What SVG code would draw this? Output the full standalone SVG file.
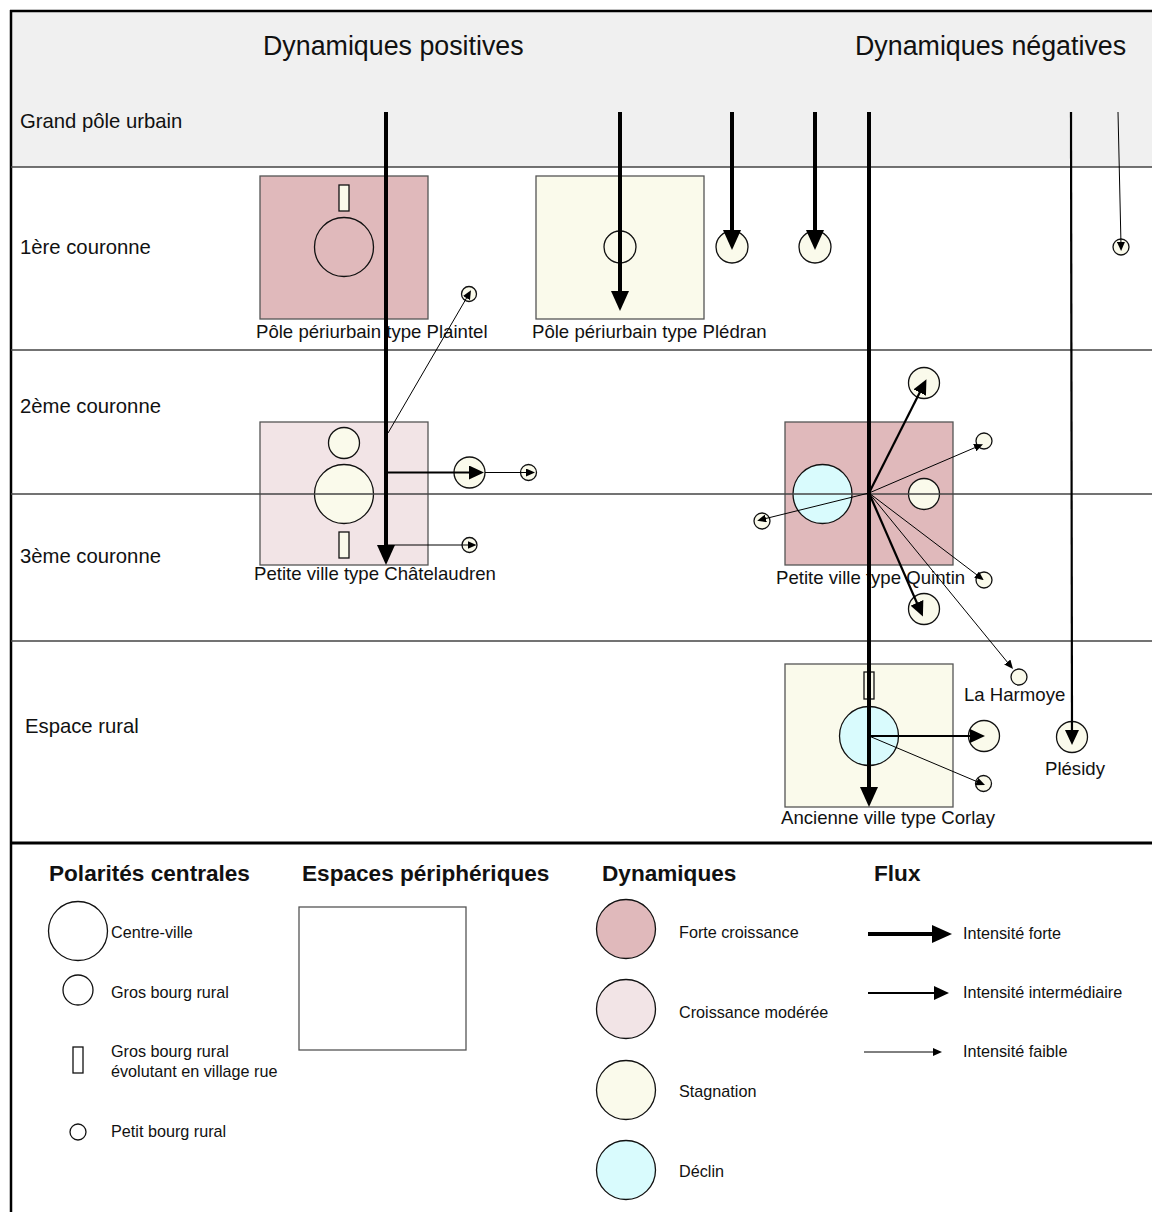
<svg xmlns="http://www.w3.org/2000/svg" width="1152" height="1212" viewBox="0 0 1152 1212">
<style>
text{font-family:"Liberation Sans",Arial,sans-serif;fill:#111}
.title{font-size:26.8px}
.row{font-size:20.3px}
.lbl{font-size:18.6px}
.leg{font-size:16.2px}
.head{font-size:22.6px;font-weight:bold}
.box{stroke:#555;stroke-width:1.3}
.fc{fill:#e0b9bb}
.cm{fill:#f2e4e6}
.st{fill:#fafaeb}
.de{fill:#d9fbfd}
.nf{fill:none}
.c{stroke:#111;stroke-width:1.3}
.grid{stroke:#444;stroke-width:1.4}
.thick{stroke:#000;stroke-width:4;fill:none;marker-end:url(#mThick)}
.med{stroke:#000;stroke-width:2.2;fill:none;marker-end:url(#mMed)}
.thin{stroke:#000;stroke-width:1;fill:none;marker-end:url(#mThin)}
</style>
<defs>
<marker id="mThick" markerUnits="userSpaceOnUse" markerWidth="20" markerHeight="18" refX="6" refY="9" orient="auto"><path d="M0,0 L20,9 L0,18 z" fill="#000"/></marker>
<marker id="mMed" markerUnits="userSpaceOnUse" markerWidth="15" markerHeight="14" refX="4" refY="7" orient="auto"><path d="M0,0 L15,7 L0,14 z" fill="#000"/></marker>
<marker id="mThin" markerUnits="userSpaceOnUse" markerWidth="9" markerHeight="8" refX="3" refY="4" orient="auto"><path d="M0,0 L9,4 L0,8 z" fill="#000"/></marker>
</defs>
<rect x="0" y="0" width="1152" height="1212" fill="#fff"/>
<rect x="11" y="11" width="1141" height="156" fill="#f0f0f0"/>

<g id="frame">
<line x1="10" y1="11" x2="1152" y2="11" stroke="#000" stroke-width="2.5"/>
<line x1="11" y1="10" x2="11" y2="1212" stroke="#000" stroke-width="2.5"/>
</g>

<g id="headers">
<text class="title" x="263" y="55">Dynamiques positives</text>
<text class="title" x="855" y="55">Dynamiques négatives</text>
<text class="row" x="20" y="128">Grand pôle urbain</text>
<text class="row" x="20" y="254">1ère couronne</text>
<text class="row" x="20" y="413">2ème couronne</text>
<text class="row" x="20" y="563">3ème couronne</text>
<text class="row" x="25" y="733">Espace rural</text>
</g>

<g id="plaintel">
<rect class="box fc" x="260" y="176" width="168" height="143"/>
<rect class="c st" x="339" y="185" width="10" height="26"/>
<circle class="c nf" cx="344" cy="247" r="29.5"/>
<text class="lbl" x="256" y="338">Pôle périurbain type Plaintel</text>
</g>

<g id="pledran">
<rect class="box st" x="536" y="176" width="168" height="143"/>
<circle class="c nf" cx="620" cy="247" r="16"/>
<text class="lbl" x="532" y="338">Pôle périurbain type Plédran</text>
</g>

<g id="chatelaudren">
<rect class="box cm" x="260" y="422" width="168" height="143"/>
<circle class="c st" cx="344" cy="443" r="15.5"/>
<circle class="c st" cx="344" cy="494" r="29.5"/>
<rect class="c st" x="339" y="532" width="10" height="26"/>
<text class="lbl" x="254" y="580">Petite ville type Châtelaudren</text>
</g>

<g id="quintin">
<rect class="box fc" x="785" y="422" width="168" height="143"/>
<circle class="c de" cx="822.5" cy="494" r="29.5"/>
<circle class="c st" cx="924" cy="494" r="15.5"/>
<text class="lbl" x="776" y="584">Petite ville type Quintin</text>
</g>

<g id="corlay">
<rect class="box st" x="785" y="664" width="168" height="143"/>
<rect class="c st" x="864" y="672" width="10" height="27"/>
<circle class="c de" cx="869" cy="736" r="29.5"/>
<text class="lbl" x="781" y="824">Ancienne ville type Corlay</text>
</g>

<g id="grid">
<line class="grid" x1="11" y1="167" x2="1152" y2="167"/>
<line class="grid" x1="11" y1="350" x2="1152" y2="350"/>
<line class="grid" x1="11" y1="494" x2="1152" y2="494" stroke="#111"/>
<line class="grid" x1="11" y1="641" x2="1152" y2="641"/>
<line x1="11" y1="843" x2="1152" y2="843" stroke="#000" stroke-width="3"/>
</g>

<g id="satellites">
<circle class="c st" cx="732" cy="247" r="16"/>
<circle class="c st" cx="815" cy="247" r="16"/>
<circle class="c st" cx="1121" cy="247" r="8"/>
<circle class="c st" cx="469" cy="294" r="7.5"/>
<circle class="c st" cx="469.5" cy="472.5" r="15.5"/>
<circle class="c st" cx="528.5" cy="472.5" r="8"/>
<circle class="c st" cx="469.5" cy="545" r="7.5"/>
<circle class="c st" cx="924" cy="383" r="15.5"/>
<circle class="c st" cx="984" cy="441" r="8"/>
<circle class="c st" cx="762" cy="521" r="8"/>
<circle class="c st" cx="924" cy="609" r="15.5"/>
<circle class="c st" cx="984" cy="580" r="8"/>
<circle class="c st" cx="1019" cy="677" r="8"/>
<circle class="c st" cx="984" cy="736" r="15.5"/>
<circle class="c st" cx="983.5" cy="783.5" r="8"/>
<circle class="c st" cx="1072" cy="737" r="15.5"/>
<text class="lbl" x="964" y="701">La Harmoye</text>
<text class="lbl" x="1045" y="775">Plésidy</text>
</g>

<g id="connectors">
<line class="thick" x1="386" y1="112" x2="386" y2="551"/>
<line class="thick" x1="620" y1="112" x2="620" y2="297"/>
<line class="thick" x1="732" y1="112" x2="732" y2="236"/>
<line class="thick" x1="815" y1="112" x2="815" y2="236"/>
<line class="thick" x1="869" y1="112" x2="869" y2="793"/>
<line class="med" x1="1071" y1="112" x2="1072" y2="734"/>
<line class="thin" x1="1118" y1="112" x2="1121" y2="245"/>
<line class="thin" x1="388" y1="433" x2="468" y2="295.5"/>
<line class="med" x1="388" y1="472.5" x2="473" y2="472.5"/>
<line class="thin" x1="485" y1="472.5" x2="529" y2="472.5"/>
<line class="thin" x1="388" y1="545" x2="470.5" y2="545"/>
<line class="med" x1="869" y1="493" x2="921.5" y2="389"/>
<line class="thin" x1="869" y1="493" x2="977.5" y2="446.5"/>
<line class="thin" x1="869" y1="493" x2="763" y2="519.2"/>
<line class="med" x1="869" y1="493" x2="918.5" y2="606.5"/>
<line class="thin" x1="869" y1="493" x2="979" y2="576.5"/>
<line class="thin" x1="869" y1="493" x2="1009.2" y2="664.4"/>
<line class="med" x1="869" y1="736" x2="974" y2="736"/>
<line class="thin" x1="869" y1="736" x2="979.5" y2="782.7"/>
</g>

<g id="legend-polarites">
<text class="head" x="49" y="881">Polarités centrales</text>
<circle class="c nf" cx="78" cy="931" r="29.5"/>
<text class="leg" x="111" y="938">Centre-ville</text>
<circle class="c nf" cx="78" cy="990" r="15"/>
<text class="leg" x="111" y="998">Gros bourg rural</text>
<rect class="c nf" x="73" y="1047" width="10" height="26"/>
<text class="leg" x="111" y="1057">Gros bourg rural</text>
<text class="leg" x="111" y="1077">évolutant en village rue</text>
<circle class="c nf" cx="78" cy="1132" r="8"/>
<text class="leg" x="111" y="1137">Petit bourg rural</text>
</g>

<g id="legend-espaces">
<text class="head" x="302" y="881">Espaces périphériques</text>
<rect class="box" fill="#fff" x="299" y="907" width="167" height="143"/>
</g>

<g id="legend-dynamiques">
<text class="head" x="602" y="881">Dynamiques</text>
<circle class="c fc" cx="626" cy="929" r="29.5"/>
<text class="leg" x="679" y="938">Forte croissance</text>
<circle class="c cm" cx="626" cy="1009" r="29.5"/>
<text class="leg" x="679" y="1018">Croissance modérée</text>
<circle class="c st" cx="626" cy="1090" r="29.5"/>
<text class="leg" x="679" y="1097">Stagnation</text>
<circle class="c de" cx="626" cy="1170" r="29.5"/>
<text class="leg" x="679" y="1177">Déclin</text>
</g>

<g id="legend-flux">
<text class="head" x="874" y="881">Flux</text>
<line class="thick" x1="868" y1="934" x2="938" y2="934"/>
<text class="leg" x="963" y="939">Intensité forte</text>
<line class="med" x1="868" y1="993" x2="938" y2="993"/>
<text class="leg" x="963" y="998">Intensité intermédiaire</text>
<line class="thin" x1="864" y1="1052" x2="936" y2="1052"/>
<text class="leg" x="963" y="1057">Intensité faible</text>
</g>
</svg>
